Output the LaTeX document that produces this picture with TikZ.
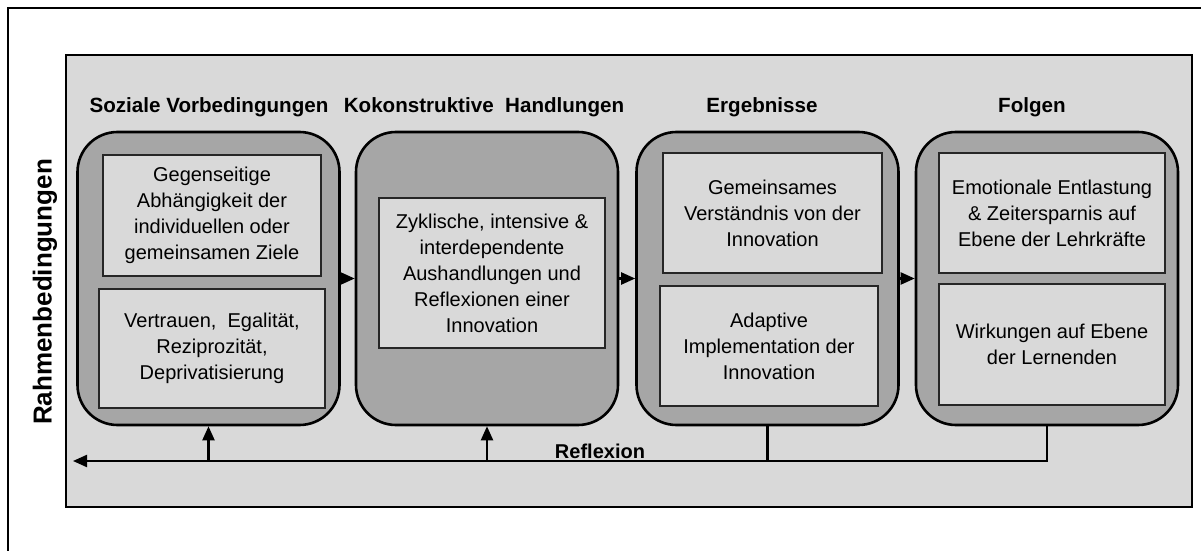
\documentclass[tikz,border=0pt]{standalone}
\usepackage{fontspec}
\setmainfont{Liberation Sans}
\usetikzlibrary{arrows.meta}

\definecolor{panelgray}{HTML}{D9D9D9}
\definecolor{boxgray}{HTML}{A6A6A6}

\begin{document}
\begin{tikzpicture}[x=0.5pt,y=-0.5pt,
    stage/.style={draw=black, line width=1.3pt, fill=boxgray, rounded corners=20pt, minimum width=131pt, minimum height=146.5pt, inner sep=0pt},
    itembox/.style={draw=black!85, line width=0.75pt, fill=panelgray, align=center, inner sep=0pt, font=\fontsize{10}{13}\selectfont},
    headline/.style={font=\fontsize{10.3}{12}\selectfont\bfseries},
    flow/.style={line width=1.1pt, -{Triangle[length=7pt,width=6pt]}}]
  \useasboundingbox (0,0) rectangle (1201,551);
  \draw[line width=1pt] (8,551) -- (8,8) -- (1201,8);
  \node[draw=black, line width=1.1pt, fill=panelgray, minimum width=563pt, minimum height=226pt, inner sep=0pt] (PANEL) at (629,281) {};
  \node[rotate=90, font=\fontsize{13}{15}\selectfont\bfseries] (RAHMEN) at (45,292) {Rahmenbedingungen};

  \node[headline] (TSOZ) at (209,107) {Soziale Vorbedingungen};
  \node[headline] (TKOK) at (484,107) {Kokonstruktive\ \ Handlungen};
  \node[headline] (TERG) at (762,107) {Ergebnisse};
  \node[headline] (TFOL) at (1032,107) {Folgen};

  \node[stage] (SOZ) at (208.5,278.5) {};
  \node[stage] (KOK) at (487,278.5) {};
  \node[stage] (ERG) at (767.5,278.5) {};
  \node[stage] (FOL) at (1047,278.5) {};

  \node[itembox, minimum width=109pt, minimum height=60.5pt] (SOZA) at (212,215.5) {Gegenseitige\\Abhängigkeit der\\individuellen oder\\gemeinsamen Ziele};
  \node[itembox, minimum width=113pt, minimum height=59.5pt] (SOZB) at (212,348.5) {Vertrauen,\ \ Egalität,\\Reziprozität,\\Deprivatisierung};
  \node[itembox, minimum width=113pt, minimum height=75pt] (KOKA) at (492,273) {Zyklische, intensive \&\\interdependente\\Aushandlungen und\\Reflexionen einer\\Innovation};
  \node[itembox, minimum width=109.5pt, minimum height=60pt] (ERGA) at (772.5,213) {Gemeinsames\\Verständnis von der\\Innovation};
  \node[itembox, minimum width=109pt, minimum height=60pt] (ERGB) at (769,346) {Adaptive\\Implementation der\\Innovation};
  \node[itembox, minimum width=113pt, minimum height=60pt] (FOLA) at (1052,213) {Emotionale Entlastung\\\& Zeitersparnis auf\\Ebene der Lehrkräfte};
  \node[itembox, minimum width=113pt, minimum height=60.5pt] (FOLB) at (1052,344.5) {Wirkungen auf Ebene\\der Lernenden};

  \draw[flow] (SOZ.east) -- (KOK.west);
  \draw[flow] (KOK.east) -- (ERG.west);
  \draw[flow] (ERG.east) -- (FOL.west);

  \coordinate (BACK) at (73,461);
  \draw[flow] (FOL.south) |- (BACK);
  \draw[line width=1.1pt] (ERG.south) -- (ERG.south |- BACK);
  \draw[flow] (SOZ.south |- BACK) -- (SOZ.south);
  \draw[flow] (KOK.south |- BACK) -- (KOK.south);
  \node[anchor=south, inner sep=1pt, font=\fontsize{10}{12}\selectfont\bfseries] (REFL) at (600,461) {Reflexion};
\end{tikzpicture}
\end{document}
